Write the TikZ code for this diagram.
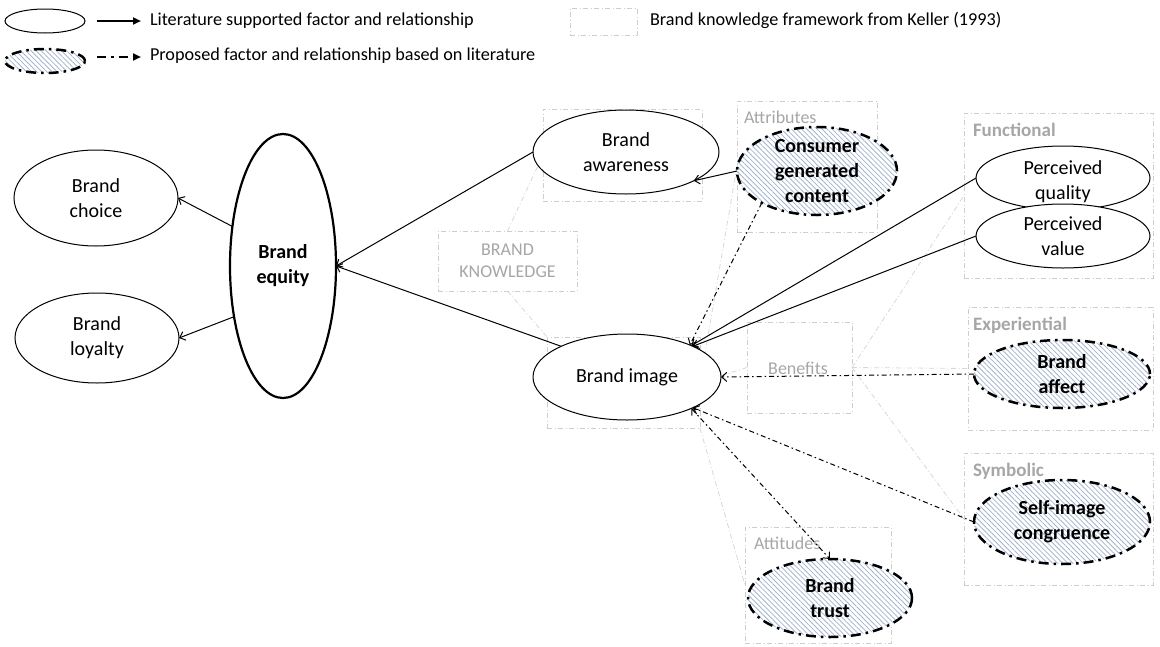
\documentclass[tikz,border=0pt]{standalone}
\usepackage{fontspec}
\setmainfont{Carlito}
\usetikzlibrary{shapes.geometric,arrows.meta,patterns.meta}
\definecolor{hatch}{RGB}{165,180,206}
\definecolor{frame}{RGB}{205,205,205}
\definecolor{frameline}{RGB}{215,215,215}
\definecolor{framelabel}{RGB}{166,166,166}

\begin{document}
\begin{tikzpicture}[x=1pt,y=-1pt,
  every node/.style={inner sep=0pt, outer sep=0pt},
  factor/.style={ellipse, draw=black, line width=1pt, fill=white},
  core/.style={factor, line width=2.2pt},
  proposed/.style={ellipse, draw=black, line width=2.5pt,
    dash pattern=on 10pt off 5pt on 2.5pt off 5pt,
    preaction={fill=white},
    pattern={Lines[angle=-45,distance=3.6pt,line width=0.8pt]}, pattern color=hatch},
  txt/.style={align=center, font=\fontsize{20}{25}\selectfont},
  btxt/.style={align=center, font=\bfseries\fontsize{20}{25}\selectfont},
  kbox/.style={draw=frame, line width=0.8pt, dash pattern=on 5pt off 2.5pt on 1pt off 2.5pt},
  kline/.style={draw=frameline, line width=0.8pt, dash pattern=on 5pt off 2.5pt on 1pt off 2.5pt},
  klabel/.style={text=framelabel, align=center, font=\fontsize{18}{21.5}\selectfont},
  cat/.style={text=framelabel, anchor=west, font=\bfseries\fontsize{19}{23}\selectfont},
  legend/.style={anchor=west, font=\fontsize{18.2}{22}\selectfont},
  rel/.style={line width=1pt, -{Straight Barb[length=5pt,width=9pt]}},
  prop/.style={rel, dash pattern=on 5pt off 3pt on 1.5pt off 3pt},
  propboth/.style={prop, {Straight Barb[length=5pt,width=9pt]}-{Straight Barb[length=5pt,width=9pt]}},
]
\useasboundingbox (0,0) rectangle (1160,646);

% ---------- legend ----------
\node[factor, minimum width=80pt, minimum height=24pt] (lgA) at (45,21) {};
\coordinate (lgA1) at (97,21);
\coordinate (lgA2) at (141,21);
\draw[line width=2pt, -{Triangle[length=8pt,width=7pt]}] (lgA1) -- (lgA2);
\node[legend] (lgAt) at (150,21) {Literature supported factor and relationship};

\node[proposed, minimum width=80pt, minimum height=24pt] (lgB) at (45,61) {};
\coordinate (lgB1) at (97,57);
\coordinate (lgB2) at (141,57);
\draw[line width=2pt, dash pattern=on 9pt off 5pt on 2.5pt off 5pt, -{Triangle[length=8pt,width=7pt]}] (lgB1) -- (lgB2);
\node[legend] (lgBt) at (150,56) {Proposed factor and relationship based on literature};

\node[kbox, minimum width=67pt, minimum height=27pt] (lgC) at (603.5,21.5) {};
\node[legend] (lgCt) at (650,20) {Brand knowledge framework from Keller (1993)};

% ---------- Keller (1993) brand knowledge frame ----------
\node[kbox, minimum width=139pt, minimum height=60pt, klabel] (bk) at (507.5,261) {BRAND\\KNOWLEDGE};
\node[kbox, minimum width=159pt, minimum height=92pt] (awbox) at (622.5,155) {};
\node[kbox, minimum width=153pt, minimum height=91pt] (imbox) at (623.5,382.5) {};
\node[kbox, minimum width=140pt, minimum height=131pt] (attrbox) at (807,166.5) {};
\node[kbox, minimum width=105pt, minimum height=91pt] (benbox) at (799.5,367.5) {};
\node[kbox, minimum width=146pt, minimum height=116pt] (attbox) at (818,585) {};
\node[kbox, minimum width=189pt, minimum height=165pt] (funcbox) at (1058.5,195.5) {};
\node[kbox, minimum width=185pt, minimum height=123pt] (expbox) at (1060.5,368.5) {};
\node[kbox, minimum width=189pt, minimum height=132pt] (symbox) at (1058.5,519) {};

\draw[kline] (bk.north) -- (awbox.west);
\draw[kline] (bk.south) -- (imbox.north west);
\draw[kline] (attrbox.west) -- (imbox.east);
\draw[kline] (benbox.west) -- (imbox.east);
\draw[kline] (imbox.south east) -- (attbox.west);
\draw[kline] (benbox.east) -- (funcbox.west);
\draw[kline] (benbox.east) -- (expbox.west);
\draw[kline] (benbox.east) -- (symbox.west);

\node[klabel, anchor=west] (attrlbl) at (744,117) {Attributes};
\node[klabel, anchor=west] (attlbl) at (754,543) {Attitudes};
\node[cat] (funclbl) at (973,130) {Functional};
\node[cat] (explbl) at (973,325) {Experiential};
\node[cat] (symlbl) at (973,471) {Symbolic};

% ---------- factors ----------
\node[factor, minimum width=164pt, minimum height=96pt, label={[txt]center:Brand\\choice}] (choice) at (96,198) {};
\node[factor, minimum width=164pt, minimum height=90pt, label={[txt]center:Brand\\loyalty}] (loyalty) at (97,338) {};
\node[core, minimum width=106pt, minimum height=264pt, label={[btxt]center:Brand\\equity}] (equity) at (283,266) {};
\node[factor, minimum width=186pt, minimum height=84pt, label={[txt]center:Brand\\awareness}] (aware) at (626,152) {};
\node[factor, minimum width=188pt, minimum height=86pt, label={[txt]center:Brand image}] (image) at (627,377) {};
\node[proposed, minimum width=160pt, minimum height=88pt, label={[btxt]center:Consumer\\generated\\content}] (cgc) at (817,171) {};
\node[factor, minimum width=174pt, minimum height=64pt, label={[txt, yshift=-4pt]center:Perceived\\quality}] (pq) at (1063,178) {};
\node[factor, minimum width=174pt, minimum height=64pt, label={[txt]center:Perceived\\value}] (pv) at (1063,236) {};
\node[proposed, minimum width=176pt, minimum height=68pt, label={[btxt]center:Brand\\affect}] (affect) at (1062,374) {};
\node[proposed, minimum width=176pt, minimum height=84pt, label={[btxt]center:Self-image\\congruence}] (selfimg) at (1062,522) {};
\node[proposed, minimum width=164pt, minimum height=78pt, label={[btxt]center:Brand\\trust}] (trust) at (830,598) {};

\node[klabel] (benlbl) at (798,368) {Benefits};

% ---------- relationships ----------
\draw[rel] (aware.west) -- (equity.east);
\draw[rel] (image.155) -- (equity.east);
\draw[rel] (equity.142) -- (choice.east);
\draw[rel] (equity.226) -- (loyalty.east);
\draw[rel] (cgc.west) -- (aware.337);
\draw[prop] (cgc.210) -- (image.27);
\draw[rel] (pq.west) -- (image.26);
\draw[rel] (pv.west) -- (image.25);
\draw[prop] (affect.west) -- (image.east);
\draw[prop] (selfimg.west) -- (image.335);
\draw[propboth] (image.334) -- (trust.north);
\end{tikzpicture}
\end{document}
